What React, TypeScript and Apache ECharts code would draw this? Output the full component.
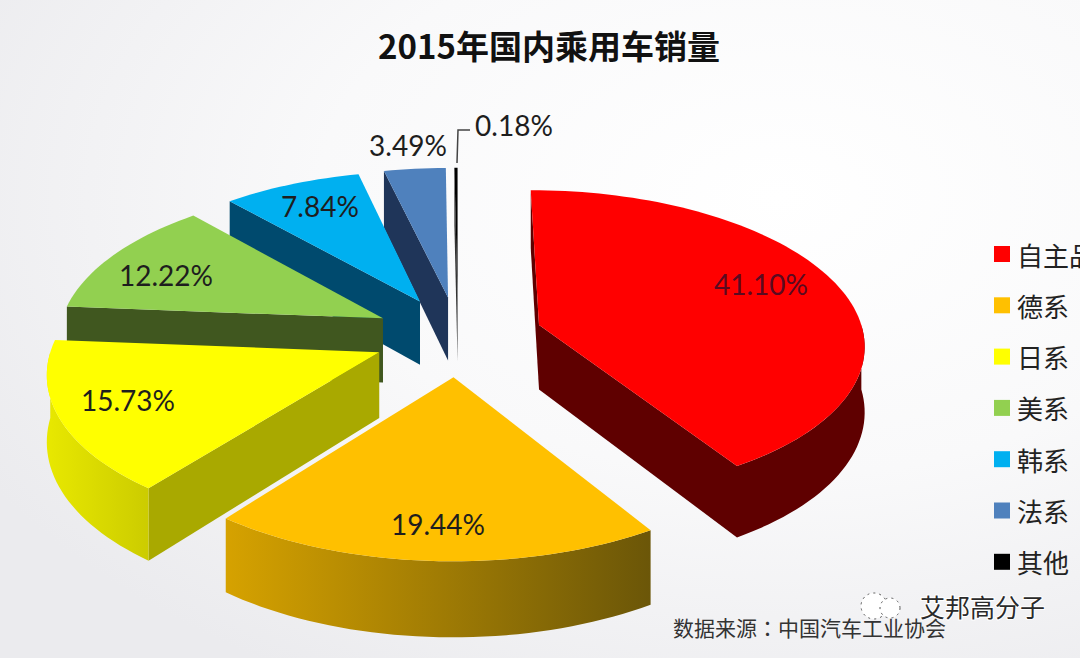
import React, { useEffect, useRef } from "react";
import * as echarts from "echarts";

const categories = ["自主品牌", "德系", "日系", "美系", "韩系", "法系", "其他"];
const shares = [41.1, 19.44, 15.73, 12.22, 7.84, 3.49, 0.18];
const topColors = ["#ff0000", "#ffc000", "#ffff00", "#92d050", "#00b0f0", "#4f81bd", "#000000"];
const cutColors = ["#5f0000", "#7a6000", "#a9a900", "#40571f", "#004a6e", "#1f3559", "#333333"];
const wallLeft = ["#5f0000", "#d6a200", "#e8e800", "#40571f", "#004a6e", "#1f3559", "#333333"];
const wallRight = ["#5f0000", "#6b5608", "#cccc00", "#40571f", "#004a6e", "#1f3559", "#333333"];
const labelSpots: [number, number][] = [
  [761, 284], [438, 524], [128, 400], [166, 275], [320, 206], [408, 145], [514, 125],
];

const CX = 458;
const CY = 336;
const R = 325;
const EXPLODE = 85;
const TILT = 0.47;
const PERSP = 0.115;
const DEPTH = 65;
const TOTAL = shares.reduce((a, b) => a + b, 0);

function project(px: number, py: number, drop = 0): [number, number] {
  const s = 1 / (1 - (PERSP * py) / R);
  return [CX + px * s, CY + TILT * py * s + drop * s];
}

function signedArea(p: [number, number][]) {
  let a = 0;
  for (let i = 0; i < p.length; i++) {
    const q = p[(i + 1) % p.length];
    a += p[i][0] * q[1] - q[0] * p[i][1];
  }
  return a;
}

function startAngleOf(i: number) {
  return (shares.slice(0, i).reduce((a, b) => a + b, 0) / TOTAL) * Math.PI * 2;
}

function renderSlice(i: number) {
  return (_params: any, api: any) => {
    const value = api.value(0);
    const a0 = startAngleOf(i);
    const a1 = a0 + (value / TOTAL) * Math.PI * 2;
    const mid = (a0 + a1) / 2;
    const ox = EXPLODE * Math.sin(mid);
    const oy = -EXPLODE * Math.cos(mid);
    const rim = (a: number, drop = 0) =>
      project(ox + R * Math.sin(a), oy - R * Math.cos(a), drop);
    const apexTop = project(ox, oy);
    const apexBottom = project(ox, oy, DEPTH);
    const steps = Math.max(2, Math.ceil((a1 - a0) / 0.03));
    const top: [number, number][] = [apexTop];
    for (let k = 0; k <= steps; k++) top.push(rim(a0 + ((a1 - a0) * k) / steps));

    const children: any[] = [];
    const startFace = [apexTop, rim(a0), rim(a0, DEPTH), apexBottom] as [number, number][];
    const endFace = [apexTop, rim(a1), rim(a1, DEPTH), apexBottom] as [number, number][];
    if (signedArea(startFace) < 0) {
      children.push({ type: "polygon", shape: { points: startFace }, style: { fill: cutColors[i] } });
    }
    if (signedArea(endFace) > 0) {
      children.push({ type: "polygon", shape: { points: endFace }, style: { fill: cutColors[i] } });
    }
    const from = Math.max(a0, Math.PI / 2);
    const to = Math.min(a1, (Math.PI * 3) / 2);
    if (to > from) {
      const upper: [number, number][] = [];
      const lower: [number, number][] = [];
      const n = Math.ceil((to - from) / 0.03);
      for (let k = 0; k <= n; k++) {
        const a = from + ((to - from) * k) / n;
        upper.push(rim(a));
        lower.unshift(rim(a, DEPTH));
      }
      const xs = upper.map((p) => p[0]);
      const fill = new echarts.graphic.LinearGradient(
        Math.min(...xs), 0, Math.max(...xs), 0,
        [{ offset: 0, color: wallLeft[i] }, { offset: 1, color: wallRight[i] }],
        true
      );
      children.push({ type: "polygon", shape: { points: [...upper, ...lower] }, style: { fill } });
    }
    children.push({ type: "polygon", shape: { points: top }, style: { fill: topColors[i] } });
    children.push({
      type: "text",
      x: labelSpots[i][0],
      y: labelSpots[i][1],
      style: {
        text: value.toFixed(2) + "%",
        fill: i === 0 ? "#5a0a20" : "#1e1e1e",
        font: '28px Lato, "Noto Sans"',
        textAlign: "center",
        textVerticalAlign: "middle",
      },
    });
    return { type: "group", children };
  };
}

export default function App() {
  const ref = useRef<HTMLDivElement>(null);
  useEffect(() => {
    document.body.style.margin = "0";
    const chart = echarts.init(ref.current!, undefined, { renderer: "svg" });
    const cjk = '"Noto Sans CJK SC"';
    chart.setOption({
      animation: false,
      backgroundColor: new echarts.graphic.RadialGradient(0.72, 0.3, 0.85, [
        { offset: 0, color: "#ffffff" },
        { offset: 0.5, color: "#f9f9fa" },
        { offset: 1, color: "#ebebee" },
      ]),
      title: {
        text: "2015年国内乘用车销量",
        left: 544,
        top: 40,
        textAlign: "center",
        textVerticalAlign: "middle",
        textStyle: { fontFamily: cjk, fontSize: 33, fontWeight: "bold", color: "#111111" },
      },
      legend: {
        data: categories,
        orient: "vertical",
        left: 994,
        top: 239,
        padding: 0,
        icon: "rect",
        itemWidth: 16,
        itemHeight: 16,
        itemGap: 21.3,
        selectedMode: false,
        textStyle: { fontFamily: cjk, fontSize: 26, lineHeight: 30, color: "#222222", padding: [0, 0, 0, 2] },
      },
      graphic: [
        {
          type: "polyline",
          z: 50,
          shape: { points: [[457, 163], [458, 130], [470, 130]] },
          style: { stroke: "#444444", lineWidth: 1.5, fill: "none" },
        },
        {
          type: "text",
          x: 673,
          y: 627,
          z: 50,
          style: { text: "数据来源：中国汽车工业协会", fill: "#333333", font: '21px "Noto Sans CJK TC"', textVerticalAlign: "middle" },
        },
        { type: "circle", z: 51, shape: { cx: 874, cy: 606, r: 13 }, style: { fill: "#ffffff", stroke: "#555555", lineWidth: 1, lineDash: [2, 4] } },
        { type: "circle", z: 51, shape: { cx: 890, cy: 608, r: 10 }, style: { fill: "#ffffff", stroke: "#555555", lineWidth: 1, lineDash: [2, 4] } },
        {
          type: "text",
          x: 920,
          y: 606,
          z: 51,
          style: {
            text: "艾邦高分子",
            fill: "#2a2a2a",
            font: `25px ${cjk}`,
            textVerticalAlign: "middle",
            stroke: "#ffffff",
            lineWidth: 2,
          },
        },
      ],
      series: categories.map((name, i) => {
        const mid = startAngleOf(i) + (shares[i] / TOTAL) * Math.PI;
        return {
          type: "custom",
          name,
          coordinateSystem: "none",
          z: Math.round(10 - 5 * Math.cos(mid)),
          itemStyle: { color: topColors[i] },
          data: [[shares[i]]],
          renderItem: renderSlice(i),
          silent: true,
        };
      }),
    });
    return () => chart.dispose();
  }, []);
  return <div ref={ref} style={{ width: 1080, height: 658, overflow: "hidden" }} />;
}
